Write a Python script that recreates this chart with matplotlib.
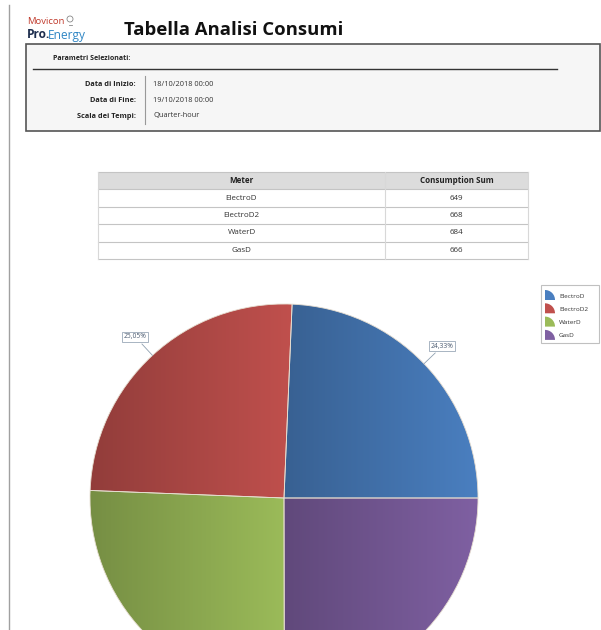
import numpy as np
import matplotlib
matplotlib.use("Agg")
import matplotlib.pyplot as plt
from matplotlib.patches import Rectangle, Wedge, Circle
from matplotlib.colors import LinearSegmentedColormap, to_rgb

plt.rcParams['font.family'] = ['Open Sans', 'DejaVu Sans']

# ---- data ----
meters = ["ElectroD", "ElectroD2", "WaterD", "GasD"]
consumption = [649, 668, 684, 666]
slice_colors = ["#4a7fc0", "#c0504d", "#9bbb59", "#7f60a2"]

param_labels = ["Data di Inizio:", "Data di Fine:", "Scala dei Tempi:"]
param_values = ["18/10/2018 00:00", "19/10/2018 00:00", "Quarter-hour"]

title = "Tabella Analisi Consumi"
table_header = ["Meter", "Consumption Sum"]

W, H = 601, 630
fig = plt.figure(figsize=(W / 100, H / 100), dpi=100)

# page axes in pixel units (y down)
ax = fig.add_axes([0, 0, 1, 1])
ax.set_xlim(0, W)
ax.set_ylim(H, 0)
ax.axis("off")

# left page border
ax.plot([9, 9], [5, H], c="#a0a0a0", lw=1)

# logo
ax.text(27, 22, "Movicon", color="#c0392b", fontsize=6.8, va="center", ha="left")
ax.add_patch(Circle((70, 19), 3, fill=False, ec="#888", lw=0.6))
ax.plot([68.5, 71.5], [24.5, 24.5], c="#888", lw=0.6)
ax.text(27, 35, "Pro.", color="#1d2d4d", fontsize=8.6, fontweight="bold", va="center", ha="left")
ax.text(48, 35, "Energy", color="#2f86c4", fontsize=8.6, va="center", ha="left")

# title
ax.text(124, 30, title, fontsize=13.3, fontweight="bold", va="center", ha="left", color="#111")

# parameter box
ax.add_patch(Rectangle((26, 44), 574, 87, fc="#f6f6f6", ec="#555", lw=1.2))
ax.text(53, 58, "Parametri Selezionati:", fontsize=5, fontweight="bold", va="center", color="#222")
ax.plot([33, 557], [69, 69], c="#333", lw=1)
ax.plot([145, 145], [76, 124], c="#999", lw=0.8)
for i, (lab, val) in enumerate(zip(param_labels, param_values)):
    y = 84 + i * 16
    ax.text(136, y, lab, fontsize=5.3, fontweight="bold", ha="right", va="center", color="#222")
    ax.text(153, y, val, fontsize=5.3, ha="left", va="center", color="#333")

# table
col_x = [98, 385, 528]
row_y = [172, 189, 207, 224, 242, 259]
ax.add_patch(Rectangle((col_x[0], row_y[0]), col_x[2] - col_x[0], row_y[1] - row_y[0],
                       fc="#dcdcdc", ec="none"))
for y in row_y:
    ax.plot([col_x[0], col_x[2]], [y, y], c="#c4c4c4", lw=0.8)
for x in col_x:
    ax.plot([x, x], [row_y[0], row_y[-1]], c="#d8d8d8", lw=0.8)
mid0 = (col_x[0] + col_x[1]) / 2
mid1 = (col_x[1] + col_x[2]) / 2
ax.text(mid0, (row_y[0] + row_y[1]) / 2, table_header[0], fontsize=5.8, fontweight="bold",
        ha="center", va="center", color="#222")
ax.text(mid1, (row_y[0] + row_y[1]) / 2, table_header[1], fontsize=5.8, fontweight="bold",
        ha="center", va="center", color="#222")
for i, (m, v) in enumerate(zip(meters, consumption)):
    yc = (row_y[i + 1] + row_y[i + 2]) / 2
    ax.text(mid0, yc, m, fontsize=5.8, ha="center", va="center", color="#333")
    ax.text(mid1, yc, str(v), fontsize=5.8, ha="center", va="center", color="#333")

# legend (drawn by hand, pie-slice icons)
ax.add_patch(Rectangle((541, 285), 58, 58, fc="white", ec="#c0c0c0", lw=0.8))
for i, (m, c) in enumerate(zip(meters, slice_colors)):
    yb = 300 + i * 13.3
    ax.add_patch(Wedge((545, yb), 10, 270, 360, fc=c, ec="none"))
    ax.text(559, yb - 4, m, fontsize=4.6, ha="left", va="center", color="#333")

# ---- pie ----
R_px = 194
cx, cy = 284, H - 498
half = 200
pax = fig.add_axes([(cx - half) / W, (cy - half) / H, 2 * half / W, 2 * half / H])
lim = half / R_px
pax.set_xlim(-lim, lim)
pax.set_ylim(-lim, lim)
pax.axis("off")

wedges, _ = pax.pie(consumption, colors=slice_colors, startangle=0, counterclock=True,
                    radius=1, wedgeprops=dict(edgecolor="#e6ddd0", linewidth=0.6))

# horizontal shading inside each slice, darker on the left
grad = np.linspace(0, 1, 256).reshape(1, -1)
for w, c in zip(wedges, slice_colors):
    base = np.array(to_rgb(c))
    cmap = LinearSegmentedColormap.from_list("g", [base * 0.76, base * 1.0])
    v = w.get_path().vertices
    im = pax.imshow(grad, cmap=cmap, aspect="auto", interpolation="bilinear",
                    extent=(v[:, 0].min(), v[:, 0].max(), v[:, 1].min(), v[:, 1].max()),
                    zorder=1)
    im.set_clip_path(w)
    w.set_facecolor("none")
    w.set_zorder(2)
pax.set_xlim(-lim, lim)
pax.set_ylim(-lim, lim)

total = sum(consumption)
for w, val in zip(wedges, consumption):
    ang = np.deg2rad((w.theta1 + w.theta2) / 2)
    lx, ly = 1.13 * np.cos(ang), 1.13 * np.sin(ang)
    if ly < -0.5:
        continue  # below the visible part of the page
    pax.plot([np.cos(ang), 1.08 * np.cos(ang)], [np.sin(ang), 1.08 * np.sin(ang)],
             c="#8fa0b0", lw=0.6, zorder=3)
    pct = f"{100 * val / total:.2f}%".replace(".", ",")
    pax.text(lx, ly, pct, fontsize=4.8, ha="center", va="center", color="#4a5a70", zorder=4,
             bbox=dict(boxstyle="square,pad=0.25", fc="white", ec="#9aa8b8", lw=0.6))

fig.savefig("out.png", dpi=100)
